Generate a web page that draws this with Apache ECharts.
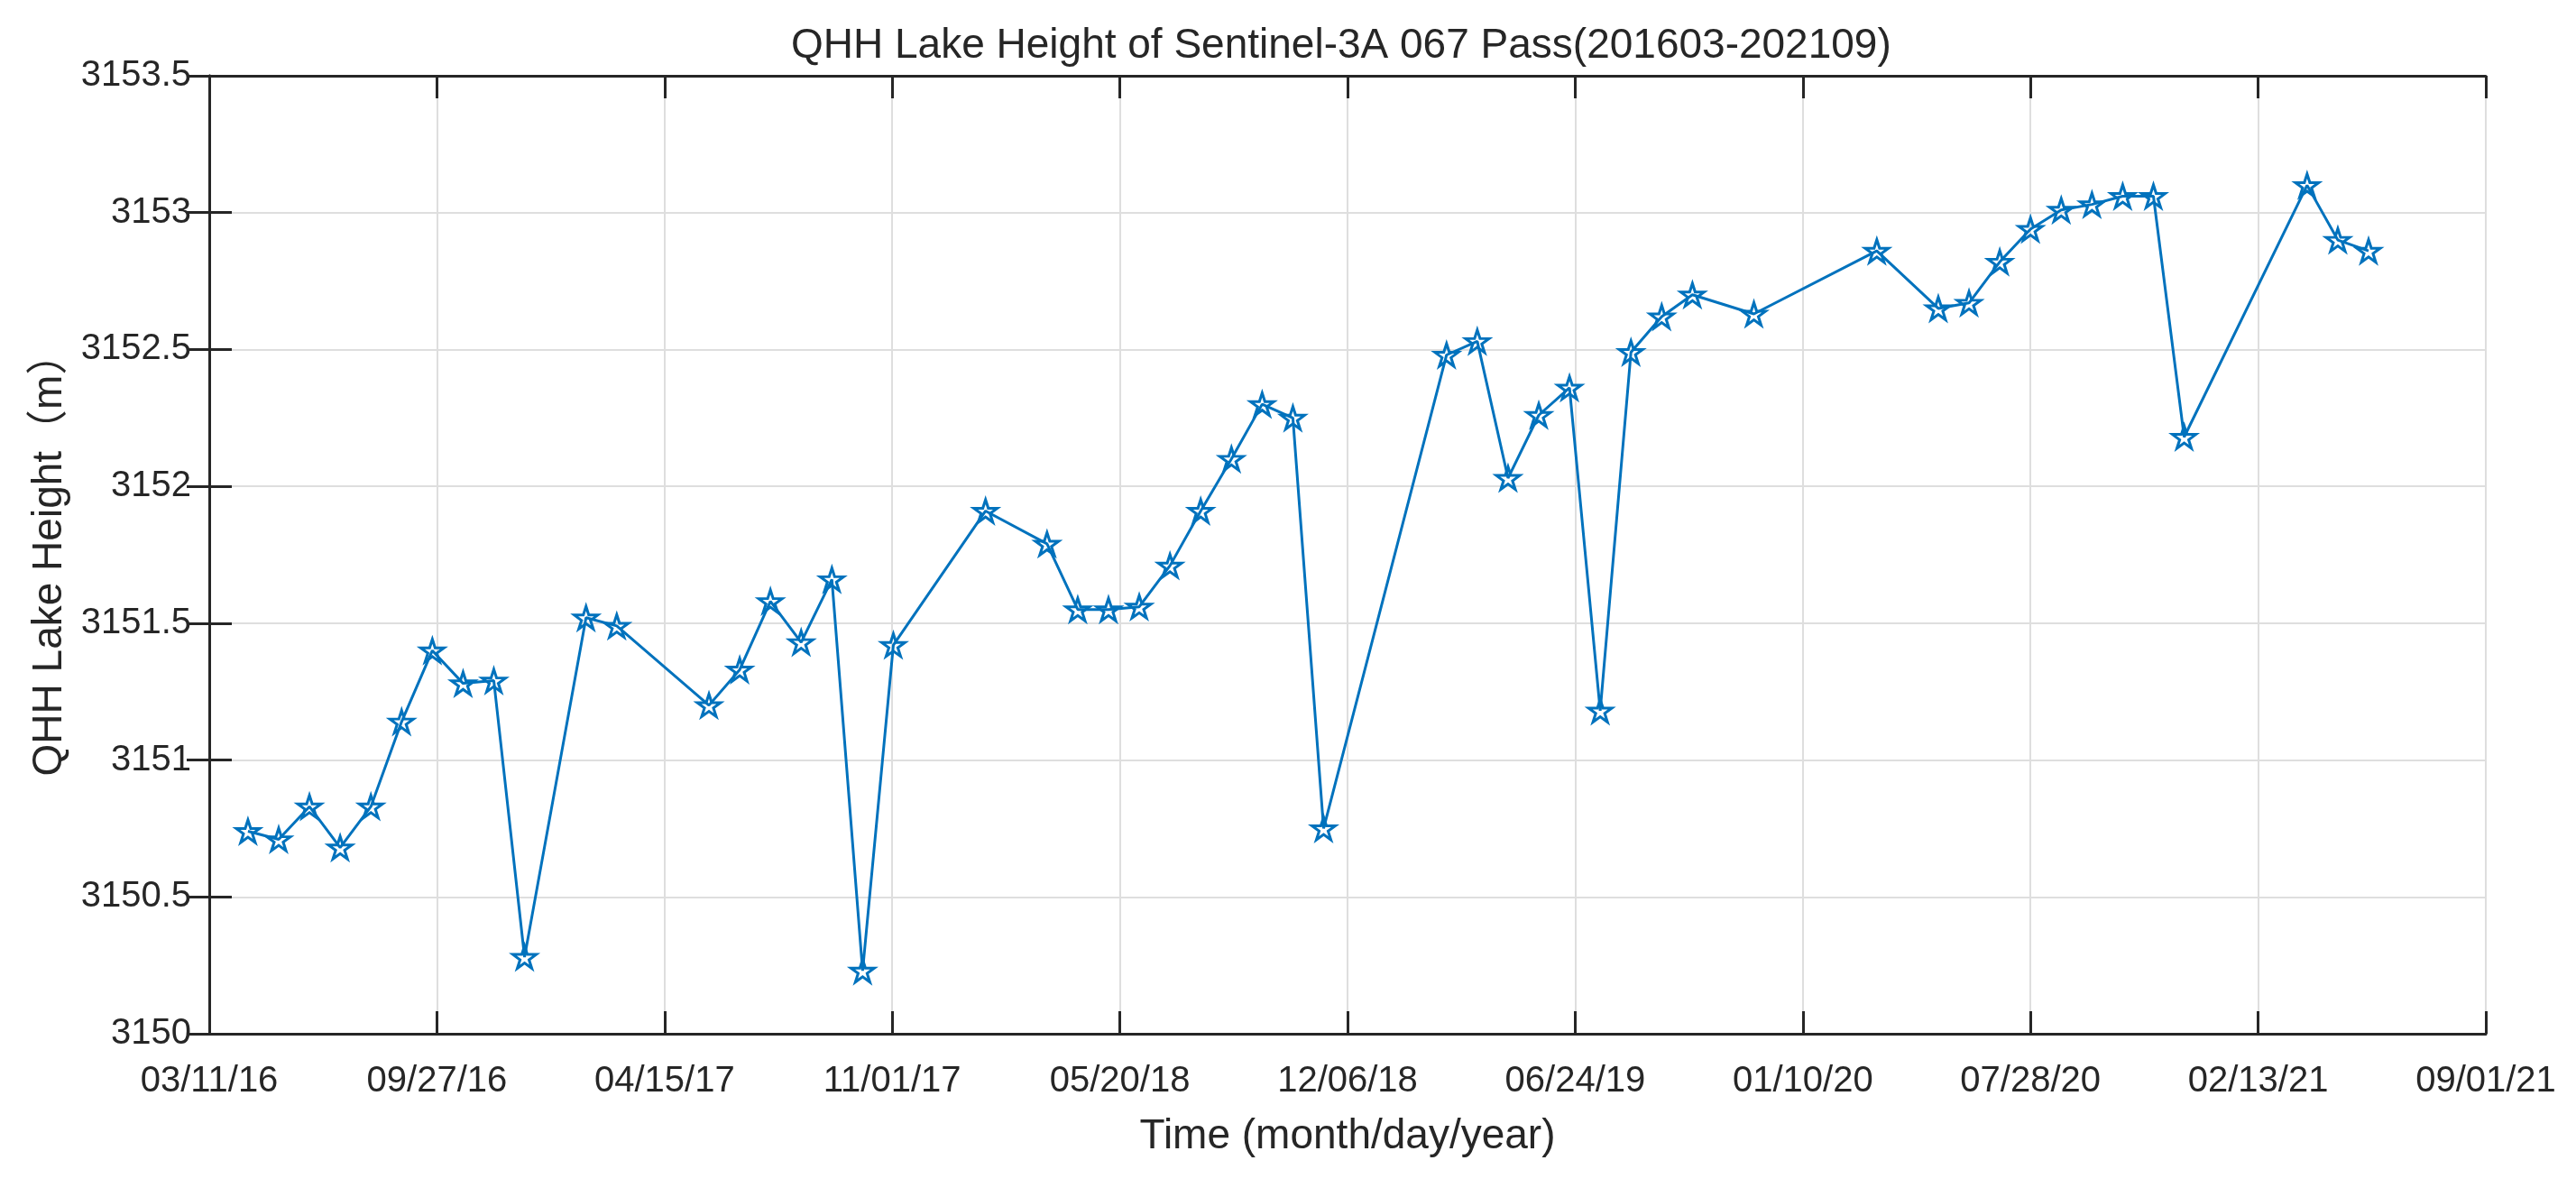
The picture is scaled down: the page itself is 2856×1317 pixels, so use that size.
<!DOCTYPE html>
<html><head><meta charset="utf-8">
<script src="https://cdn.jsdelivr.net/npm/echarts@6/dist/echarts.min.js"></script>
<style>html,body{margin:0;padding:0;background:#fff}#c{width:2856px;height:1317px}</style>
</head><body><div id="c"></div>
<script>
// ---- data ----
const startDate = '2016-03-11';
const xTickLabels = ['03/11/16','09/27/16','04/15/17','11/01/17','05/20/18','12/06/18','06/24/19','01/10/20','07/28/20','02/13/21','09/01/21'];
const dates = [
  '2016-04-14','2016-05-11','2016-06-07','2016-07-04','2016-07-31','2016-08-27','2016-09-23','2016-10-20','2016-11-16','2016-12-13',
  '2017-02-05','2017-03-04','2017-05-24','2017-06-20','2017-07-17','2017-08-13','2017-09-09','2017-10-06','2017-11-02',
  '2018-01-22','2018-03-17','2018-04-13','2018-05-10','2018-06-06','2018-07-03','2018-07-30','2018-08-26','2018-09-22','2018-10-19','2018-11-15',
  '2019-03-03','2019-03-30','2019-04-26','2019-05-23','2019-06-19','2019-07-16','2019-08-12','2019-09-08','2019-10-05','2019-11-28',
  '2020-03-15','2020-05-08','2020-06-04','2020-07-01','2020-07-28','2020-08-24','2020-09-20','2020-10-17','2020-11-13','2020-12-10',
  '2021-03-28','2021-04-24','2021-05-21'
];
const heights = [
  3150.74,3150.71,3150.83,3150.68,3150.83,3151.14,3151.40,3151.28,3151.29,3150.28,
  3151.52,3151.49,3151.20,3151.33,3151.58,3151.43,3151.66,3150.23,3151.42,
  3151.91,3151.79,3151.55,3151.55,3151.56,3151.71,3151.91,3152.10,3152.30,3152.25,3150.75,
  3152.48,3152.53,3152.03,3152.26,3152.36,3151.18,3152.49,3152.62,3152.70,3152.63,
  3152.86,3152.65,3152.67,3152.82,3152.94,3153.01,3153.03,3153.06,3153.06,3152.18,
  3153.10,3152.90,3152.86
];
const yMin = 3150, yMax = 3153.5, yStep = 0.5;
const xMin = 0, xMax = 2000, xStep = 200; // days since startDate

// ---- build ----
const t0 = Date.parse(startDate);
const points = dates.map((d, i) => [(Date.parse(d) - t0) / 86400000, heights[i]]);
const star = 'path://M50 0 L61.23 34.55 L97.55 34.55 L68.17 55.9 L79.39 90.45 L50 69.1 L20.61 90.45 L31.83 55.9 L2.45 34.55 L38.77 34.55 Z';
const FONT = 'Liberation Sans, Arial, Helvetica, sans-serif';
const axisCol = '#262626';
const gridCol = '#dedede';

const chart = echarts.init(document.getElementById('c'), null, {renderer: 'canvas'});
const baseX = {type: 'value', min: xMin, max: xMax, interval: xStep};
const baseY = {type: 'value', min: yMin, max: yMax, interval: yStep};
chart.setOption({
  animation: false,
  backgroundColor: '#fff',
  title: {
    text: 'QHH Lake Height of Sentinel-3A 067 Pass(201603-202109)',
    left: 872, top: 23,
    textStyle: {fontFamily: FONT, fontSize: 46, fontWeight: 'normal', color: axisCol}
  },
  grid: {left: 232, right: 100, top: 84, bottom: 171, containLabel: false},
  xAxis: [
    Object.assign({}, baseX, {
      position: 'bottom',
      name: 'Time (month/day/year)', nameLocation: 'middle', nameGap: 91,
      nameTextStyle: {fontFamily: FONT, fontSize: 46, color: axisCol},
      axisLine: {show: true, lineStyle: {color: axisCol, width: 3}},
      axisTick: {show: true, inside: true, length: 25, lineStyle: {color: axisCol, width: 3}},
      axisLabel: {show: true, margin: 33, fontFamily: FONT, fontSize: 40, color: axisCol,
        formatter: v => xTickLabels[Math.round((v - xMin) / xStep)] || ''},
      splitLine: {show: true, lineStyle: {color: gridCol, width: 2}}
    }),
    Object.assign({}, baseX, {
      position: 'top',
      axisLine: {show: true, lineStyle: {color: axisCol, width: 3}},
      axisTick: {show: true, inside: true, length: 25, lineStyle: {color: axisCol, width: 3}},
      axisLabel: {show: false}, splitLine: {show: false}
    })
  ],
  yAxis: [
    Object.assign({}, baseY, {
      position: 'left',
      name: 'QHH Lake Height（m）', nameLocation: 'middle', nameGap: 144,
      nameTextStyle: {fontFamily: FONT + ', Noto Sans CJK SC', fontSize: 46, color: axisCol},
      axisLine: {show: true, lineStyle: {color: axisCol, width: 3}},
      axisTick: {show: true, inside: true, length: 25, lineStyle: {color: axisCol, width: 3}},
      axisLabel: {show: true, margin: 20, fontFamily: FONT, fontSize: 40, color: axisCol,
        formatter: v => String(v)},
      splitLine: {show: true, lineStyle: {color: gridCol, width: 2}}
    }),
    Object.assign({}, baseY, {
      position: 'right',
      axisLine: {show: true, lineStyle: {color: axisCol, width: 3}},
      axisTick: {show: true, inside: true, length: 25, lineStyle: {color: axisCol, width: 3}},
      axisLabel: {show: false}, splitLine: {show: false}
    })
  ],
  series: [{
    type: 'line',
    xAxisIndex: 0, yAxisIndex: 0,
    data: points,
    symbol: star,
    symbolSize: [26, 25],
    showAllSymbol: true,
    lineStyle: {color: '#0072BD', width: 3},
    itemStyle: {color: 'rgba(255,255,255,0)', borderColor: '#0072BD', borderWidth: 3},
    emphasis: {disabled: true}
  }]
});
</script>
</body></html>
